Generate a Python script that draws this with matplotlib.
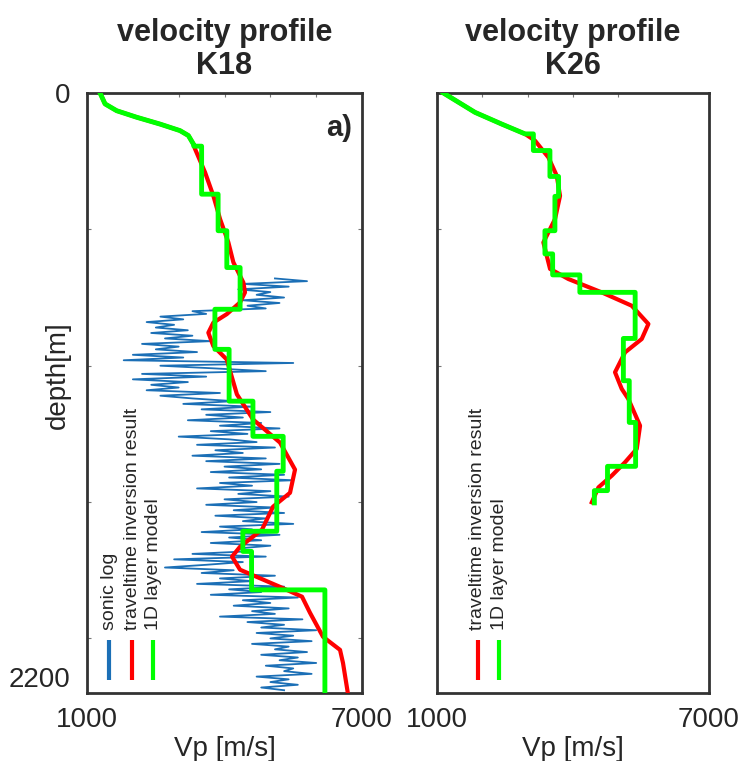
import numpy as np
import matplotlib
matplotlib.use("Agg")
import matplotlib.pyplot as plt

plt.rcParams['font.family'] = ['Liberation Sans', 'DejaVu Sans']

# ---- K18 : traveltime inversion result (depth [m], Vp [m/s])
k18_inv_depth = [0, 40, 65, 89, 114, 138, 156, 187, 205, 291, 377, 462, 548, 621, 695,
                 731, 768, 811, 842, 879, 928, 977, 1105, 1197, 1282, 1381, 1466, 1517,
                 1601, 1664, 1700, 1748, 1811, 1847, 1906, 1994, 2042, 2090, 2200]
k18_inv_vel = [1284, 1393, 1647, 2084, 2593, 3029, 3211, 3320, 3356, 3575, 3756, 3902,
               4084, 4193, 4411, 4447, 4338, 4048, 3756, 3647, 3756, 4048, 4270, 4622,
               5211, 5538, 5429, 5058, 4818, 4338, 4164, 4338, 5211, 5691, 5865, 6149,
               6520, 6585, 6690]

# ---- K18 : 1D layer model (gradient top, then layers)
k18_top_depth = [0, 40, 65, 89, 114, 138, 156, 187, 195]
k18_top_vel = [1284, 1393, 1647, 2084, 2593, 3029, 3211, 3320, 3330]
k18_layer_top = [195, 371, 505, 640, 793, 940, 1130, 1259, 1387, 1607, 1681, 1822]
k18_layer_vel = [3500, 3860, 4050, 4340, 3790, 4100, 4620, 5280, 5140, 4400, 4590, 6190]
k18_bottom = 2200

# ---- K18 : sonic log, 10 m sampling from 680 m
sonic_start, sonic_step = 680, 10
sonic_vel = [
    5100, 5800, 4400, 5400, 4300, 5000, 4700, 5300, 4400, 5200,
    4500, 4900, 3300, 3600, 2600, 3100, 2300, 2900, 2500, 3200,
    2400, 3300, 2700, 3700, 2200, 3000, 2500, 3400, 2000, 3100,
    1800, 5500, 2600, 3800, 4900, 2200, 3600, 2000, 3200, 2400,
    3000, 2300, 3900, 2600, 3300, 4200, 3100, 4600, 3500, 5000,
    3600, 4400, 3200, 4800, 3900, 5200, 3700, 4500, 3000, 4100,
    4700, 3400, 5100, 3800, 4400, 3300, 4900, 3600, 5200, 4000,
    4800, 3700, 5300, 4100, 5500, 3900, 4600, 3400, 5000, 4300,
    5400, 4000, 4700, 3600, 5100, 4200, 5300, 3800, 4900, 4400,
    5500, 3900, 4600, 3500, 5200, 4100, 4800, 3700, 5000, 4300,
    4600, 3300, 4900, 2900, 4400, 3600, 2700, 4200, 3500, 5100,
    3900, 4600, 3400, 5300, 4100, 4800, 3700, 5600, 4400, 5000,
    4200, 5400, 4600, 5100, 3900, 5700, 4500, 5300, 4800, 6000,
    4700, 5500, 5000, 5900, 4600, 5400, 5100, 5800, 4800, 5600,
    5200, 6000, 4900, 5500, 5300, 5900, 4700, 5400, 5000, 5600, 4800, 5300,
]
sonic_depth = sonic_start + sonic_step * np.arange(len(sonic_vel))

# ---- K26 : traveltime inversion result
k26_inv_depth = [0, 71, 114, 150, 175, 236, 303, 377, 462, 548, 645, 682, 731, 780, 847,
                 902, 951, 1024, 1085, 1122, 1220, 1305, 1354, 1403, 1446, 1501]
k26_inv_vel = [1140, 1838, 2427, 2941, 3162, 3456, 3640, 3713, 3603, 3346, 3493, 3896,
               4631, 5294, 5662, 5515, 5147, 4926, 5074, 5220, 5478, 5405, 5147, 4855,
               4561, 4414]

# ---- K26 : 1D layer model
k26_top_depth = [0, 71, 114, 150]
k26_top_vel = [1140, 1838, 2427, 2941]
k26_layer_top = [150, 211, 306, 379, 505, 590, 667, 731, 900, 1055, 1208, 1369, 1458]
k26_layer_vel = [3125, 3490, 3680, 3600, 3380, 3550, 4150, 5370, 5110, 5240, 5380, 4760, 4470]
k26_bottom = 1503

TXT = '#262626'
RED = '#ff0000'
GREEN = '#00ff00'
BLUE = '#1b6fb6'


def layer_path(top_d, top_v, layer_top, layer_vel, bottom):
    """gradient part followed by a blocky layer model"""
    edges = list(layer_top) + [bottom]
    d = np.repeat(edges, 2)[1:-1]
    v = np.repeat(layer_vel, 2)
    return np.r_[top_d, d], np.r_[top_v, v]


def style_axis(ax, title, xticks_top):
    ax.set_xlim(1000, 7000)
    ax.set_ylim(2200, 0)
    ax.set_xticks([1000, 7000])
    ax.set_xticklabels(['1000', '7000'])
    ax.tick_params(axis='x', which='major', length=0, pad=10, labelsize=20, labelcolor=TXT)
    ax.set_xticks(xticks_top, minor=True)
    ax.tick_params(axis='x', which='minor', direction='in', length=3, width=0.8,
                   colors='#777777', bottom=False, top=True)
    ax.set_xlabel('Vp [m/s]', fontsize=20, color=TXT, labelpad=2)
    for s in ax.spines.values():
        s.set_color('#333333')
        s.set_linewidth(2)
    ax.set_title(title, fontsize=22, fontweight='bold', color=TXT, pad=14,
                 linespacing=1.12)


fig = plt.figure(figsize=(7.42, 7.61), dpi=100)
ax1 = fig.add_axes([0.1173, 0.0894, 0.3706, 0.7884])
ax2 = fig.add_axes([0.589, 0.0894, 0.3666, 0.7884])

# ---------------- left panel
ax1.plot(sonic_vel, sonic_depth, color=BLUE, lw=1.3, zorder=2)
ax1.plot(k18_inv_vel, k18_inv_depth, color=RED, lw=3, zorder=3)
gd, gv = layer_path(k18_top_depth, k18_top_vel, k18_layer_top, k18_layer_vel, k18_bottom)
ax1.plot(gv, gd, color=GREEN, lw=3.5, zorder=4)

style_axis(ax1, 'velocity profile\nK18', [3000, 4000, 5000, 6000])
ax1.set_yticks([0, 2200])
ax1.set_yticklabels(['0', '2200'])
ax1.tick_params(axis='y', which='major', length=0, pad=12, labelsize=20, labelcolor=TXT)
ax1.get_yticklabels()[1].set_va('bottom')
ax1.set_yticks([500, 1000, 1500, 2000], minor=True)
ax1.tick_params(axis='y', which='minor', direction='in', length=3, width=0.8,
                colors='#777777', left=True, right=True)
ax1.text(-0.105, 0.53, 'depth[m]', transform=ax1.transAxes, rotation=90,
         ha='center', va='center', fontsize=20, color=TXT)
ax1.text(0.965, 0.965, 'a)', transform=ax1.transAxes, ha='right', va='top',
         fontsize=21, fontweight='bold', color=TXT)

for xf, col, lab in zip([0.08, 0.164, 0.24], [BLUE, RED, GREEN],
                        ['sonic log', 'traveltime inversion result', '1D layer model']):
    ax1.plot([xf, xf], [0.022, 0.088], transform=ax1.transAxes, color=col, lw=3,
             solid_capstyle='butt', zorder=5)
    ax1.text(xf, 0.105, lab, transform=ax1.transAxes, rotation=90, ha='center',
             va='bottom', fontsize=14, color=TXT)

# ---------------- right panel
ax2.plot(k26_inv_vel, k26_inv_depth, color=RED, lw=3, zorder=3)
gd, gv = layer_path(k26_top_depth, k26_top_vel, k26_layer_top, k26_layer_vel, k26_bottom)
ax2.plot(gv, gd, color=GREEN, lw=3.5, zorder=4)

style_axis(ax2, 'velocity profile\nK26', [2000, 3000, 4000, 5000])
ax2.set_yticks([])
ax2.set_yticks([500, 1000], minor=True)
ax2.tick_params(axis='y', which='minor', direction='in', length=3, width=0.8,
                colors='#777777', left=True, right=False)

for xf, col, lab in zip([0.15, 0.228], [RED, GREEN],
                        ['traveltime inversion result', '1D layer model']):
    ax2.plot([xf, xf], [0.022, 0.088], transform=ax2.transAxes, color=col, lw=3,
             solid_capstyle='butt', zorder=5)
    ax2.text(xf, 0.105, lab, transform=ax2.transAxes, rotation=90, ha='center',
             va='bottom', fontsize=14, color=TXT)

fig.savefig('out.png', dpi=100)
